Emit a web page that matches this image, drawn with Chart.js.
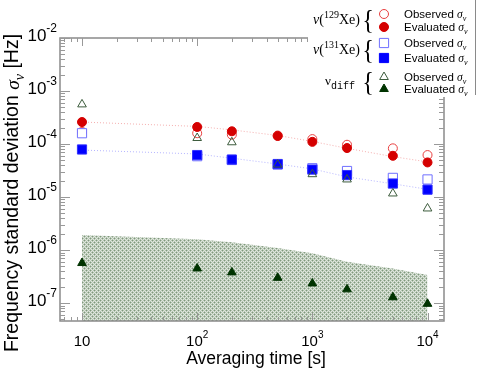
<!DOCTYPE html>
<html><head><meta charset="utf-8">
<script src="https://cdn.jsdelivr.net/npm/chart.js@4/dist/chart.umd.min.js"></script>
<style>html,body{margin:0;padding:0;background:#fff}canvas{display:block}</style>
</head><body>
<canvas id="c" width="479" height="371"></canvas>
<script>
// ---- data ----
const tau = [10, 100, 200, 500, 1000, 2000, 5000, 10000];
const xe129Observed = [1.7e-4, 1.6e-4, 1.5e-4, 1.45e-4, 1.24e-4, 9.7e-5, 8.3e-5, 6.2e-5];
const xe129Evaluated = [2.6e-4, 2.1e-4, 1.74e-4, 1.42e-4, 1.1e-4, 8.4e-5, 6.0e-5, 4.5e-5];
const xe129Fit = [2.6e-4, 2.15e-4, 1.85e-4, 1.45e-4, 1.12e-4, 8.3e-5, 5.8e-5, 4.6e-5];
const xe131Observed = [1.6e-4, 5.9e-5, 5.0e-5, 4.1e-5, 3.5e-5, 3.1e-5, 2.3e-5, 2.15e-5];
const xe131Evaluated = [7.9e-5, 6.2e-5, 5.1e-5, 4.2e-5, 3.3e-5, 2.6e-5, 1.8e-5, 1.38e-5];
const xe131Fit = [7.7e-5, 6.5e-5, 5.4e-5, 4.2e-5, 3.4e-5, 2.4e-5, 1.78e-5, 1.4e-5];
const diffObserved = [5.6e-4, 1.3e-4, 1.08e-4, 4.1e-5, 2.7e-5, 2.15e-5, 1.17e-5, 6.1e-6];
const diffEvaluated = [5.7e-7, 4.5e-7, 3.8e-7, 3.0e-7, 2.35e-7, 1.82e-7, 1.29e-7, 9.7e-8];
const diffBand = [1.92e-6, 1.6e-6, 1.4e-6, 1.1e-6, 8.7e-7, 6.0e-7, 4.5e-7, 3.4e-7];
const xTickValues = [10, 100, 1000, 10000];
const xTickBase = ['10', '10', '10', '10'];
const xTickExp = ['', '2', '3', '4'];
const yTickValues = [1e-7, 1e-6, 1e-5, 1e-4, 1e-3, 1e-2];
const yTickBase = ['10', '10', '10', '10', '10', '10'];
const yTickExp = ['-7', '-6', '-5', '-4', '-3', '-2'];
const xTitle = 'Averaging time [s]';
const yTitle = 'Frequency standard deviation ';
const legendObserved = 'Observed ';
const legendEvaluated = 'Evaluated ';

const pts = arr => tau.map((t, i) => ({x: t, y: arr[i]}));

// band pattern (stippled grey-green)
const pc = document.createElement('canvas'); pc.width = 4; pc.height = 4;
const pctx = pc.getContext('2d');
pctx.fillStyle = '#dfe6dd'; pctx.fillRect(0, 0, 4, 4);
pctx.fillStyle = '#b3c3b0';
[[1,0],[3,0],[0,1],[2,1],[1,2],[3,2],[0,3],[2,3]].forEach(([x,y]) => pctx.fillRect(x, y, 1, 1));
pctx.fillStyle = '#7f987c';
[[0,0],[2,2]].forEach(([x,y]) => pctx.fillRect(x, y, 1, 1));
const ctx0 = document.getElementById('c').getContext('2d');
const bandPattern = ctx0.createPattern(pc, 'repeat');

const C = {
  redFill: '#d50000', redOpen: '#e84040',
  blueFill: '#0000ff', blueOpen: '#7070ff',
  greenOpen: '#3d5c3d', greenFill: '#003300',
  frame: '#8a8a8a'
};

const SANS = '"Liberation Sans", Arial, sans-serif';
const SERIF = '"Liberation Serif", "DejaVu Serif", serif';

function drawPow(ctx, base, exp, x, y, size, align) {
  ctx.save();
  ctx.textBaseline = 'middle';
  ctx.textAlign = 'left';
  ctx.font = size + 'px ' + SANS;
  const wb = ctx.measureText(base).width;
  const es = Math.round(size * 0.68);
  ctx.font = es + 'px ' + SANS;
  const we = exp ? ctx.measureText(exp).width : 0;
  const w = wb + we;
  let x0 = align === 'right' ? x - w : align === 'center' ? x - w / 2 : x;
  ctx.font = size + 'px ' + SANS;
  ctx.fillText(base, x0, y);
  if (exp) {
    ctx.font = es + 'px ' + SANS;
    ctx.fillText(exp, x0 + wb, y - size * 0.42);
  }
  ctx.restore();
}

function drawSigmaNu(ctx, x, y, size) {
  ctx.save();
  ctx.textBaseline = 'alphabetic';
  ctx.textAlign = 'left';
  ctx.font = 'italic ' + size + 'px ' + SERIF;
  ctx.fillText('σ', x, y);
  const w = ctx.measureText('σ').width;
  ctx.font = 'italic ' + Math.round(size * 0.7) + 'px ' + SERIF;
  ctx.fillText('ν', x + w, y + size * 0.25);
  const w2 = ctx.measureText('ν').width;
  ctx.restore();
  return w + w2;
}

function marker(ctx, style, x, y, r, fill, stroke, lw) {
  ctx.save();
  ctx.beginPath();
  if (style === 'circle') ctx.arc(x, y, r, 0, Math.PI * 2);
  else if (style === 'rect') { const s = r * Math.SQRT1_2; ctx.rect(x - s, y - s, 2 * s, 2 * s); }
  else if (style === 'triangle') {
    let a = 0;
    ctx.moveTo(x + Math.sin(a) * r, y - Math.cos(a) * r);
    a += 2 * Math.PI / 3; ctx.lineTo(x + Math.sin(a) * r, y - Math.cos(a) * r);
    a += 2 * Math.PI / 3; ctx.lineTo(x + Math.sin(a) * r, y - Math.cos(a) * r);
    ctx.closePath();
  }
  if (fill) { ctx.fillStyle = fill; ctx.fill(); }
  if (stroke) { ctx.strokeStyle = stroke; ctx.lineWidth = lw; ctx.stroke(); }
  ctx.restore();
}

const decor = {
  id: 'decor',
  afterDatasetsDraw(chart) {
    const ctx = chart.ctx, a = chart.chartArea, xs = chart.scales.x, ys = chart.scales.y;
    ctx.save();
    // frame
    ctx.strokeStyle = C.frame; ctx.lineWidth = 1.5;
    ctx.strokeRect(a.left, a.top, a.right - a.left, a.bottom - a.top);
    ctx.lineWidth = 1;
    ctx.strokeStyle = '#999';
    // x ticks (bottom & top, inward)
    for (let d = 0; d <= 4; d++) {
      for (let m = 1; m <= 9; m++) {
        const v = m * Math.pow(10, d);
        if (v < xs.min || v > xs.max) continue;
        const px = Math.round(xs.getPixelForValue(v)) + 0.5;
        const len = m === 1 ? 8 : 4;
        ctx.beginPath();
        ctx.moveTo(px, a.bottom); ctx.lineTo(px, a.bottom - len);
        ctx.moveTo(px, a.top); ctx.lineTo(px, a.top + len);
        ctx.stroke();
      }
    }
    // y ticks (left & right, inward)
    for (let d = -8; d <= -2; d++) {
      for (let m = 1; m <= 9; m++) {
        const v = m * Math.pow(10, d);
        if (v < ys.min || v > ys.max * 1.0001) continue;
        const py = Math.round(ys.getPixelForValue(v)) + 0.5;
        const len = m === 1 ? 10 : 5;
        ctx.beginPath();
        ctx.moveTo(a.left, py); ctx.lineTo(a.left + len, py);
        ctx.moveTo(a.right, py); ctx.lineTo(a.right - len, py);
        ctx.stroke();
      }
    }
    ctx.fillStyle = '#000';
    // x tick labels
    xTickValues.forEach((v, i) => {
      drawPow(ctx, xTickBase[i], xTickExp[i], xs.getPixelForValue(v), a.bottom + 21, 15, 'center');
    });
    // y tick labels
    yTickValues.forEach((v, i) => {
      drawPow(ctx, yTickBase[i], yTickExp[i], 57, ys.getPixelForValue(v) - 2, 17, 'right');
    });
    // x title
    ctx.font = '17.5px ' + SANS; ctx.textAlign = 'center'; ctx.textBaseline = 'middle';
    ctx.fillText(xTitle, 256, 359);
    // y title
    ctx.save();
    ctx.translate(13, 193); ctx.rotate(-Math.PI / 2);
    const fs = 19.5;
    ctx.font = fs + 'px ' + SANS;
    const w1 = ctx.measureText(yTitle).width;
    ctx.font = 'italic ' + fs + 'px ' + SERIF;
    const ws = ctx.measureText('σ').width;
    ctx.font = 'italic ' + Math.round(fs * 0.7) + 'px ' + SERIF;
    const wn = ctx.measureText('ν').width;
    ctx.font = fs + 'px ' + SANS;
    const w3 = ctx.measureText(' [Hz]').width;
    const tot = w1 + ws + wn + w3;
    let x = -tot / 2;
    ctx.textAlign = 'left'; ctx.textBaseline = 'middle';
    ctx.fillText(yTitle, x, 0); x += w1;
    drawSigmaNu(ctx, x, 6, fs); x += ws + wn;
    ctx.font = fs + 'px ' + SANS; ctx.textBaseline = 'middle';
    ctx.fillText(' [Hz]', x, 0);
    ctx.restore();

    // legend box
    ctx.fillStyle = '#fff';
    ctx.fillRect(308, 0, 171, 97);
    ctx.strokeStyle = C.frame; ctx.lineWidth = 1;
    ctx.beginPath(); ctx.moveTo(475.5, 0); ctx.lineTo(475.5, 95); ctx.stroke();
    ctx.fillStyle = '#000';
    const groups = [
      {y1: 14, y2: 27, label: '129', style: 'circle', open: C.redOpen, fill: C.redFill, r: 4.5},
      {y1: 43, y2: 58, label: '131', style: 'rect', open: C.blueOpen, fill: C.blueFill, r: 6.5},
      {y1: 77, y2: 89, label: null, style: 'triangle', open: C.greenOpen, fill: C.greenFill, r: 5}
    ];
    groups.forEach(g => {
      const cy = (g.y1 + g.y2) / 2;
      ctx.textBaseline = 'middle'; ctx.textAlign = 'left';
      if (g.label) {
        let x = 313;
        ctx.font = 'italic 14px ' + SERIF; ctx.fillText('ν', x, cy); x += ctx.measureText('ν').width;
        ctx.font = '14px ' + SERIF; ctx.fillText('(', x, cy); x += ctx.measureText('(').width;
        ctx.font = '10px ' + SERIF; ctx.fillText(g.label, x, cy - 5); x += ctx.measureText(g.label).width;
        ctx.font = '14px ' + SERIF; ctx.fillText('Xe)', x, cy);
      } else {
        let x = 325;
        ctx.font = '13px ' + SERIF; ctx.fillText('ν', x, cy - 1); x += ctx.measureText('ν').width;
        ctx.font = '10px "Liberation Mono", monospace'; ctx.fillText('diff', x, cy + 3);
      }
      // brace
      ctx.save();
      ctx.font = '27px ' + SERIF; ctx.textAlign = 'center'; ctx.textBaseline = 'middle';
      ctx.translate(368, cy + 1); ctx.scale(0.9, 1);
      ctx.fillText('{', 0, 0);
      ctx.restore();
      // markers
      marker(ctx, g.style, 384, g.y1, g.r, '#fff', g.open, 1);
      marker(ctx, g.style, 384, g.y2, g.r, g.fill, g.fill, 1);
      // texts
      [[g.y1, legendObserved], [g.y2, legendEvaluated]].forEach(([yy, t]) => {
        ctx.font = '11.5px ' + SANS; ctx.textAlign = 'left'; ctx.textBaseline = 'alphabetic';
        ctx.fillText(t, 404, yy + 4);
        const w = ctx.measureText(t).width;
        drawSigmaNu(ctx, 404 + w, yy + 4, 11.5);
      });
    });
    ctx.restore();
  }
};

new Chart(ctx0, {
  type: 'scatter',
  data: {
    datasets: [
      {label: 'diff evaluated', data: pts(diffEvaluated), pointStyle: 'triangle', pointRadius: 5,
       backgroundColor: C.greenFill, borderColor: C.greenFill, borderWidth: 1, order: 1},
      {label: 'diff observed', data: pts(diffObserved), pointStyle: 'triangle', pointRadius: 5,
       backgroundColor: 'rgba(0,0,0,0)', borderColor: C.greenOpen, borderWidth: 1, order: 2},
      {label: '131 evaluated', data: pts(xe131Evaluated), pointStyle: 'rect', pointRadius: 6.5,
       backgroundColor: C.blueFill, borderColor: '#3030ff', borderWidth: 1, order: 3},
      {label: '131 observed', data: pts(xe131Observed), pointStyle: 'rect', pointRadius: 6.5,
       backgroundColor: '#fff', borderColor: C.blueOpen, borderWidth: 1, order: 4},
      {label: '129 evaluated', data: pts(xe129Evaluated), pointStyle: 'circle', pointRadius: 4.5,
       backgroundColor: C.redFill, borderColor: C.redFill, borderWidth: 1, order: 5},
      {label: '129 observed', data: pts(xe129Observed), pointStyle: 'circle', pointRadius: 4.5,
       backgroundColor: '#fff', borderColor: C.redOpen, borderWidth: 1, order: 6},
      {label: '129 fit', data: pts(xe129Fit), showLine: true, pointRadius: 0, borderColor: 'rgba(235,110,110,0.55)',
       borderWidth: 1, borderDash: [1, 2], order: 7},
      {label: '131 fit', data: pts(xe131Fit), showLine: true, pointRadius: 0, borderColor: 'rgba(120,120,255,0.55)',
       borderWidth: 1, borderDash: [1, 2], order: 8},
      {label: 'band', data: pts(diffBand), showLine: true, pointRadius: 0, borderWidth: 0,
       borderColor: 'rgba(0,0,0,0)', backgroundColor: bandPattern, fill: 'start', order: 9}
    ]
  },
  options: {
    responsive: false, animation: false, devicePixelRatio: 1,
    layout: {padding: {left: 60, top: 38, right: 35, bottom: 50}},
    plugins: {legend: {display: false}, tooltip: {enabled: false}},
    scales: {
      x: {type: 'logarithmic', min: 6.44, max: 13900, display: false},
      y: {type: 'logarithmic', min: 4.6e-8, max: 1e-2, display: false}
    }
  },
  plugins: [decor]
});
</script>
</body></html>
